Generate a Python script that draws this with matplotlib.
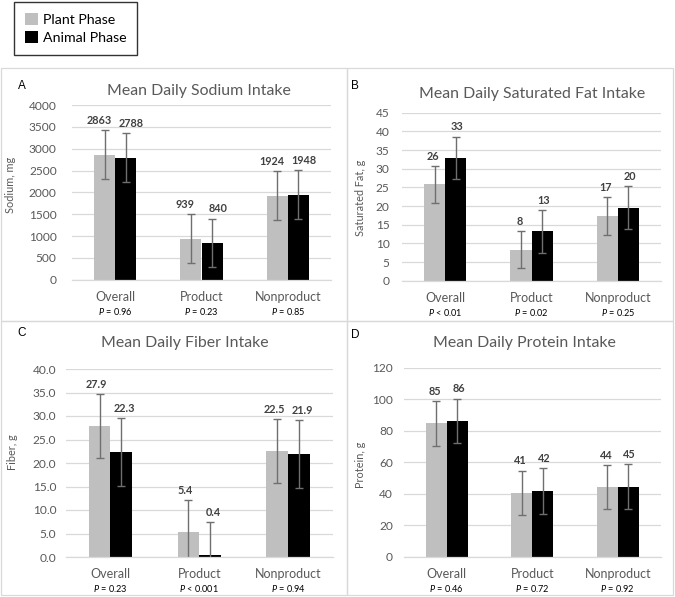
import numpy as np
import matplotlib
matplotlib.use("Agg")
import matplotlib.pyplot as plt
from matplotlib.patches import Patch, Rectangle

plt.rcParams["font.family"] = ["Lato", "DejaVu Sans"]
plt.rcParams["mathtext.fontset"] = "custom"
plt.rcParams["mathtext.it"] = "Lato:italic"
plt.rcParams["mathtext.rm"] = "Lato"

CATEGORIES = ["Overall", "Product", "Nonproduct"]
SERIES = ["Plant Phase", "Animal Phase"]

SODIUM_PLANT = [2863, 939, 1924]
SODIUM_ANIMAL = [2788, 840, 1948]
SODIUM_PLANT_SD = [555, 555, 555]
SODIUM_ANIMAL_SD = [560, 560, 560]
SODIUM_P = ["= 0.96", "= 0.23", "= 0.85"]

SATFAT_PLANT = [25.8, 8.3, 17.3]
SATFAT_ANIMAL = [32.9, 13.2, 19.6]
SATFAT_PLANT_SD = [5.0, 5.0, 5.1]
SATFAT_ANIMAL_SD = [5.7, 5.7, 5.8]
SATFAT_P = ["< 0.01", "= 0.02", "= 0.25"]

FIBER_PLANT = [27.9, 5.4, 22.5]
FIBER_ANIMAL = [22.3, 0.4, 21.9]
FIBER_PLANT_SD = [6.8, 6.7, 6.8]
FIBER_ANIMAL_SD = [7.2, 7.1, 7.2]
FIBER_P = ["= 0.23", "< 0.001", "= 0.94"]

PROTEIN_PLANT = [84.8, 40.6, 44.3]
PROTEIN_ANIMAL = [86.4, 41.8, 44.6]
PROTEIN_PLANT_SD = [14.1, 14.2, 14.1]
PROTEIN_ANIMAL_SD = [14.2, 14.4, 14.4]
PROTEIN_P = ["= 0.46", "= 0.72", "= 0.92"]

W, H = 675, 597
GREY = "#bfbfbf"
TXT = "#595959"
GRID = "#d9d9d9"


def px(x, y):
    # pixel position (top-left origin) -> figure fraction
    return x / W, 1 - y / H


def rect(x0, y0, x1, y1):
    return [x0 / W, 1 - y1 / H, (x1 - x0) / W, (y1 - y0) / H]


def panel(fig, box, plant, animal, plant_sd, animal_sd, pvals, ymax, ystep,
          fmt, tickfmt, ylabel, ylab_pos, title, title_pos, letter, letter_pos,
          ypad, spread=1.0):
    ax = fig.add_axes(box)
    x = np.arange(len(CATEGORIES))
    w = 0.245
    ekw = dict(ecolor="#6f6f6f", elinewidth=1.0, capsize=3, capthick=1.0)
    ax.bar(x - w / 2, plant, w, color=GREY, yerr=plant_sd, error_kw=ekw,
           label=SERIES[0], zorder=2)
    ax.bar(x + w / 2, animal, w, color="black", yerr=animal_sd, error_kw=ekw,
           label=SERIES[1], zorder=2)
    # value labels sit above the error bars, nudged apart a little
    for xs, vals, sds, dx in [(x - w / 2, plant, plant_sd, -spread),
                              (x + w / 2, animal, animal_sd, spread)]:
        for xi, v, s in zip(xs, vals, sds):
            ax.annotate(fmt.format(v), (xi, v + s), xytext=(dx, 3),
                        textcoords="offset points", ha="center", va="bottom",
                        fontsize=7.8, fontweight="bold", color="#404040")
    ax.set_xlim(-0.5, len(CATEGORIES) - 0.5)
    ax.set_ylim(0, ymax)
    ticks = np.arange(0, ymax + ystep / 2, ystep)
    ax.set_yticks(ticks, [tickfmt.format(t) for t in ticks])
    ax.set_xticks(x, CATEGORIES)
    ax.tick_params(axis="both", length=0, colors=TXT, labelsize=8.6)
    ax.tick_params(axis="y", pad=ypad)
    ax.tick_params(axis="x", pad=8, labelsize=9)
    ax.grid(axis="y", color=GRID, lw=0.9, zorder=0)
    ax.set_axisbelow(True)
    for s in ["top", "right", "left"]:
        ax.spines[s].set_visible(False)
    ax.spines["bottom"].set_color(GRID)
    ax.spines["bottom"].set_linewidth(0.9)
    for xi, p in zip(x, pvals):
        ax.annotate(r"$\it{P}$ " + p, (xi, 0), xycoords=("data", "axes fraction"),
                    xytext=(0, -23), textcoords="offset points",
                    ha="center", va="center", fontsize=6.6, color="black")
    fig.text(*px(*ylab_pos), ylabel, rotation=90, ha="center", va="center",
             fontsize=7.8, color=TXT)
    fig.text(*px(*title_pos), title, ha="center", va="center", fontsize=11.4,
             color=TXT)
    fig.text(*px(*letter_pos), letter, ha="center", va="center", fontsize=8.5,
             family="Liberation Sans", color="black")
    return ax


def main():
    fig = plt.figure(figsize=(W / 100, H / 100), dpi=100)

    # panel frames
    for (x0, y0, x1, y1) in [(1, 68, 347, 321), (347, 68, 673, 321),
                             (1, 321, 347, 595), (347, 321, 673, 595)]:
        fig.add_artist(Rectangle((x0 / W, 1 - y1 / H), (x1 - x0) / W, (y1 - y0) / H,
                                 transform=fig.transFigure, fill=False,
                                 edgecolor=GRID, lw=0.9))

    panel(fig, rect(72, 105, 331, 279.7), SODIUM_PLANT, SODIUM_ANIMAL,
          SODIUM_PLANT_SD, SODIUM_ANIMAL_SD, SODIUM_P, 4000, 500, "{:.0f}",
          "{:.0f}", "Sodium, mg", (11, 185), "Mean Daily Sodium Intake",
          (198.5, 91), "A", (22, 86), 11, spread=4.0)
    panel(fig, rect(402, 112.7, 661, 280.7), SATFAT_PLANT, SATFAT_ANIMAL,
          SATFAT_PLANT_SD, SATFAT_ANIMAL_SD, SATFAT_P, 45, 5, "{:.0f}",
          "{:.0f}", "Saturated Fat, g", (360, 198),
          "Mean Daily Saturated Fat Intake", (531.7, 94), "B", (355, 86), 9)
    panel(fig, rect(66, 369, 332.7, 557), FIBER_PLANT, FIBER_ANIMAL,
          FIBER_PLANT_SD, FIBER_ANIMAL_SD, FIBER_P, 40, 5, "{:.1f}",
          "{:.1f}", "Fiber, g", (13, 452), "Mean Daily Fiber Intake",
          (185, 343), "C", (22, 333), 7, spread=2.0)
    panel(fig, rect(404, 368, 660.5, 556.7), PROTEIN_PLANT, PROTEIN_ANIMAL,
          PROTEIN_PLANT_SD, PROTEIN_ANIMAL_SD, PROTEIN_P, 120, 20, "{:.0f}",
          "{:.0f}", "Protein, g", (360, 465), "Mean Daily Protein Intake",
          (524, 343), "D", (355, 335), 8)

    handles = [Patch(facecolor=GREY, label=SERIES[0]),
               Patch(facecolor="black", label=SERIES[1])]
    leg = fig.legend(handles=handles, loc="upper left", bbox_to_anchor=px(14, 2),
                     frameon=True, fancybox=False, fontsize=10.2,
                     handlelength=0.95, handleheight=0.95, handletextpad=0.35,
                     borderpad=0.75, labelspacing=0.4, borderaxespad=0)
    leg.get_frame().set_edgecolor("black")
    leg.get_frame().set_linewidth(1.0)

    fig.savefig("out.png", dpi=100)


if __name__ == "__main__":
    main()
